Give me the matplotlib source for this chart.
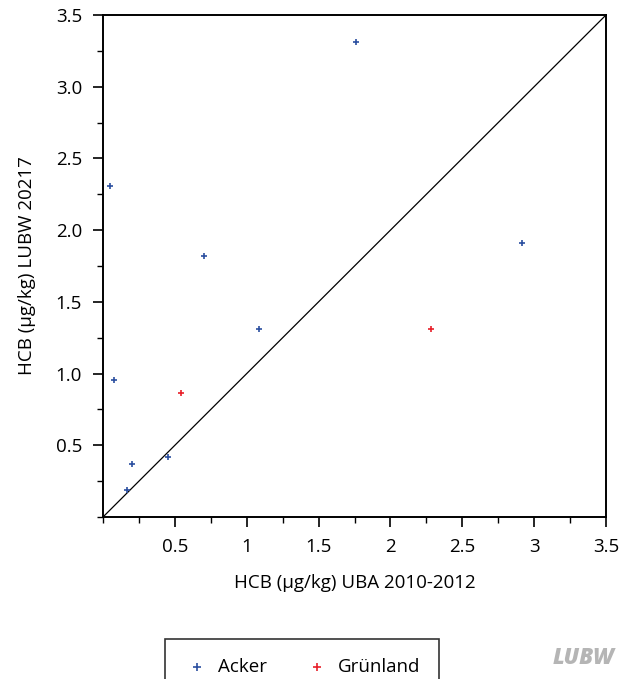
import matplotlib
matplotlib.use("Agg")
import matplotlib.pyplot as plt
from matplotlib.ticker import MultipleLocator

plt.rcParams['font.family'] = ['Open Sans', 'DejaVu Sans']

# HCB concentrations, UBA 2010-2012 (x) vs LUBW (y)
acker_x = [0.05, 1.76, 0.70, 1.085, 2.915, 0.08, 0.20, 0.45, 0.17]
acker_y = [2.31, 3.31, 1.82, 1.31, 1.91, 0.955, 0.37, 0.42, 0.19]
gruen_x = [0.54, 2.28]
gruen_y = [0.865, 1.31]
lims = [0, 3.5]

fig = plt.figure(figsize=(6.26, 6.79), dpi=100)
ax = fig.add_axes([103/626, 1-517/679, 503/626, 502/679])

ax.plot(lims, lims, color='black', lw=0.9, zorder=1)
ax.scatter(acker_x, acker_y, marker='+', s=24, linewidths=1.2, color='#2b4fa0', label='Acker', zorder=3)
ax.scatter(gruen_x, gruen_y, marker='+', s=24, linewidths=1.2, color='#e8202a', label='Grünland', zorder=3)

ax.set_xlim(lims)
ax.set_ylim(lims)
ax.xaxis.set_minor_locator(MultipleLocator(0.25))
ax.yaxis.set_minor_locator(MultipleLocator(0.25))
ax.set_xticks([0.5, 1, 1.5, 2, 2.5, 3, 3.5])
ax.set_xticklabels(['0.5', '1', '1.5', '2', '2.5', '3', '3.5'])
ax.set_yticks([0.5, 1.0, 1.5, 2.0, 2.5, 3.0, 3.5])
ax.set_yticklabels(['0.5', '1.0', '1.5', '2.0', '2.5', '3.0', '3.5'])
ax.tick_params(which='major', length=7, width=1.2, labelsize=13.5, pad=8)
ax.tick_params(which='minor', length=4, width=1.0)
for s in ax.spines.values():
    s.set_linewidth(1.4)

ax.set_xlabel('HCB (µg/kg) UBA 2010-2012', fontsize=13.5, labelpad=13)
ax.set_ylabel('HCB (µg/kg) LUBW 20217', fontsize=13.5, labelpad=14)

leg = fig.legend(loc='upper left', bbox_to_anchor=(165/626, 1-639/679), ncol=2,
                 fontsize=13.5, frameon=True, fancybox=False, edgecolor='black',
                 borderpad=1.0, handletextpad=0.4, columnspacing=2.0,
                 handlelength=1.4, borderaxespad=0, markerscale=1.2)
leg.get_frame().set_linewidth(1.2)

fig.text(584/626, 1-658/679, 'LUBW', ha='center', va='center', fontsize=16,
         fontweight='heavy', style='italic', color='#b5b5b5')

fig.savefig('out.png', dpi=100)
